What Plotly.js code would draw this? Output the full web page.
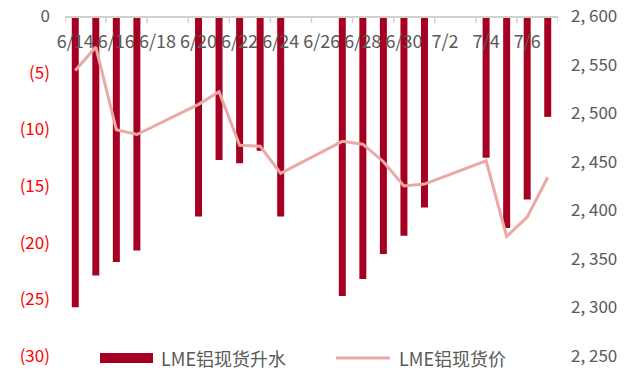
<!DOCTYPE html>
<html>
<head>
<meta charset="utf-8">
<script src="https://cdn.plot.ly/plotly-3.0.1.min.js"></script>
<style>html,body{margin:0;padding:0;background:#fff;}#chart{width:639px;height:372px;}</style>
</head>
<body>
<div id="chart"></div>
<script>
var dates = ['2022-06-14','2022-06-15','2022-06-16','2022-06-17','2022-06-20','2022-06-21','2022-06-22','2022-06-23','2022-06-24','2022-06-27','2022-06-28','2022-06-29','2022-06-30','2022-07-01','2022-07-04','2022-07-05','2022-07-06','2022-07-07'];
var premium = [-25.7,-22.9,-21.7,-20.7,-17.7,-12.7,-13.0,-11.9,-17.7,-24.7,-23.2,-21.0,-19.4,-16.9,-12.5,-18.7,-16.2,-8.9];
var price = [2544,2568,2483,2478,2509,2522,2467,2466,2438,2471,2468,2450,2425,2427,2451,2373,2393,2434];
var leftTickVals = [0,-5,-10,-15,-20,-25,-30];
var leftTickText = ['0','(5)','(10)','(15)','(20)','(25)','(30)'];
var rightTickVals = [2250,2300,2350,2400,2450,2500,2550,2600];
var rightTickText = ['2, 250','2, 300','2, 350','2, 400','2, 450','2, 500','2, 550','2, 600'];
var seriesNames = ['LME铝现货升水','LME铝现货价'];

var FONT = '"Noto Sans CJK SC", "Noto Sans", sans-serif';
var GRAY = '#595959';
var BAR_COLOR = '#A50021';
var LINE_COLOR = '#EBA9A6';
var AXIS_COLOR = '#D0D0D0';
var DAY = 86400000;
var X_RANGE = ['2022-06-13 12:00', '2022-07-07 12:00'];

var leftText = leftTickText.map(function(t, i){
  return leftTickVals[i] === 0 ? '<span style="color:#595959">' + t + '</span>' : t;
});

var traces = [
  {
    type: 'bar', name: seriesNames[0], x: dates, y: premium,
    width: dates.map(function(){ return 0.34 * DAY; }),
    marker: {color: BAR_COLOR}, yaxis: 'y', xaxis: 'x', showlegend: false
  },
  {
    type: 'scatter', mode: 'lines', name: seriesNames[1], x: dates, y: price,
    line: {color: LINE_COLOR, width: 3}, yaxis: 'y2', xaxis: 'x', showlegend: false
  }
];

var W = 639 - 65 - 81, H = 372 - 16 - 16;
function px(x){ return (x - 65) / W; }
function py(y){ return (356 - y) / H; }

// custom legend (wide swatches like the original)
var shapes = [
  {type: 'rect', xref: 'paper', yref: 'paper', x0: px(100), x1: px(153), y0: py(363), y1: py(353), fillcolor: BAR_COLOR, line: {width: 0}},
  {type: 'line', xref: 'paper', yref: 'paper', x0: px(336), x1: px(390), y0: py(358), y1: py(358), line: {color: LINE_COLOR, width: 3}}
];

// axis tick marks between days, every two days (Excel category-boundary style)
var t0 = Date.parse(X_RANGE[0].replace(' ', 'T') + ':00Z');
var t1 = Date.parse(X_RANGE[1].replace(' ', 'T') + ':00Z');
for (var t = t0; t <= t1; t += 2 * DAY) {
  var v = new Date(t).toISOString().replace('T', ' ').slice(0, 16);
  shapes.push({type: 'line', xref: 'x', yref: 'paper', x0: v, x1: v, y0: 1, y1: 1 - 7 / H,
               line: {color: AXIS_COLOR, width: 1.5}, layer: 'below'});
}

var annotations = [
  {xref: 'paper', yref: 'paper', x: px(159), y: py(358), xanchor: 'left', yanchor: 'middle', text: seriesNames[0], showarrow: false, font: {family: FONT, size: 18, color: GRAY}},
  {xref: 'paper', yref: 'paper', x: px(397), y: py(358), xanchor: 'left', yanchor: 'middle', text: seriesNames[1], showarrow: false, font: {family: FONT, size: 18, color: GRAY}}
];

var layout = {
  width: 639, height: 372,
  margin: {l: 65, r: 81, t: 16, b: 16, autoexpand: false},
  paper_bgcolor: '#ffffff', plot_bgcolor: '#ffffff',
  font: {family: FONT, size: 17, color: GRAY},
  showlegend: false,
  shapes: shapes,
  annotations: annotations,
  xaxis: {
    type: 'date', range: X_RANGE,
    anchor: 'free', position: 1, side: 'bottom',
    tick0: '2022-06-14', dtick: 2 * DAY, tickformat: '%-m/%-d',
    ticks: '', ticklabelstandoff: 9,
    tickfont: {family: FONT, size: 18, color: GRAY},
    showline: true, linecolor: AXIS_COLOR, linewidth: 1.5,
    showgrid: false, zeroline: false
  },
  yaxis: {
    range: [-30, 0], tickvals: leftTickVals, ticktext: leftText,
    tickfont: {family: FONT, size: 17, color: '#FF0000'},
    showgrid: false, zeroline: false, showline: false, ticks: '', ticklabelstandoff: 14
  },
  yaxis2: {
    overlaying: 'y', side: 'right', range: [2250, 2600],
    tickvals: rightTickVals, ticktext: rightTickText,
    tickfont: {family: FONT, size: 17, color: GRAY},
    showgrid: false, zeroline: false, showline: false, ticks: '', ticklabelstandoff: 12
  }
};

Plotly.newPlot('chart', traces, layout, {displayModeBar: false, staticPlot: true});
</script>
</body>
</html>
